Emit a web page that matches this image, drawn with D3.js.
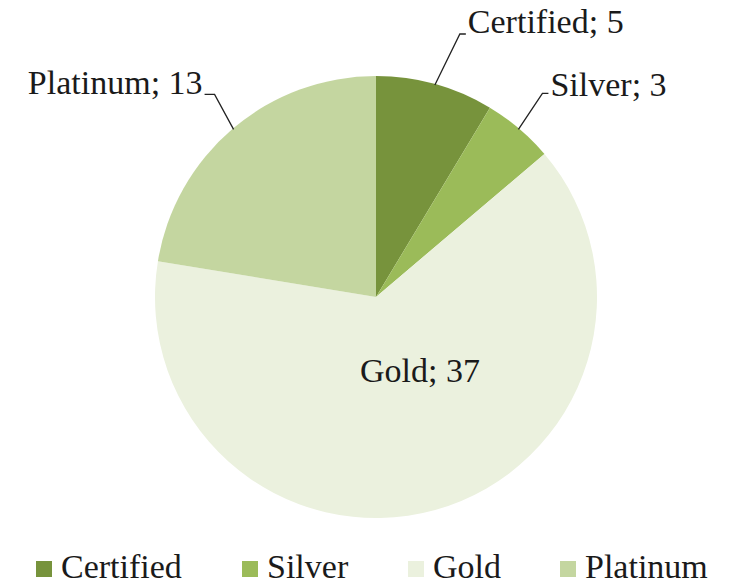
<!DOCTYPE html>
<html><head><meta charset="utf-8">
<script src="https://cdn.jsdelivr.net/npm/d3@7"></script>
<style>html,body{margin:0;padding:0;background:#fff;}</style>
</head><body>
<svg id="c" width="734" height="585"></svg>
<script>
const categories = ["Certified", "Silver", "Gold", "Platinum"];
const values = [5, 3, 37, 13];
const colors = ["#77933c", "#9bbb59", "#ebf1de", "#c4d6a0"];

const svg = d3.select("#c");
const cx = 376, cy = 297, R = 221;
const FONT = '"Liberation Serif"';
function txt(sel) {
  return sel.style("font-family", FONT).style("font-size", "34px").style("fill", "#1a1a1a");
}

const data = categories.map((c, i) => ({name: c, value: values[i], color: colors[i]}));
const pie = d3.pie().sort(null).value(d => d.value);
const arcs = pie(data);
const arc = d3.arc().innerRadius(0).outerRadius(R);

const g = svg.append("g").attr("transform", `translate(${cx},${cy})`);
g.selectAll("path").data(arcs).join("path")
  .attr("d", arc).attr("fill", d => d.data.color)
  .attr("stroke", "none");

// label layout: leader elbow offsets relative to the slice edge point
const layout = {
  Certified: {elbow: [25, -51], end: [31, -51], anchor: "start", tdx: 2, tdy: -1},
  Silver:    {elbow: [24, -36], end: [30, -36], anchor: "start", tdx: 2, tdy: 3},
  Platinum:  {elbow: [-19, -35], end: [-29, -35], anchor: "end", tdx: -2, tdy: 0},
};
const mid = d => (d.startAngle + d.endAngle) / 2;
arcs.forEach(d => {
  const a = mid(d);
  const label = `${d.data.name}; ${d.data.value}`;
  if (d.data.name === "Gold") {
    const r = 86;
    txt(g.append("text").attr("x", Math.sin(a) * r + 21).attr("y", -Math.cos(a) * r + 2)
      .attr("text-anchor", "middle").text(label));
    return;
  }
  const L = layout[d.data.name];
  const px = Math.sin(a) * (R - 1), py = -Math.cos(a) * (R - 1);
  const ex = px + L.elbow[0], ey = py + L.elbow[1];
  const fx = px + L.end[0], fy = py + L.end[1];
  g.append("path").attr("d", `M${px},${py}L${ex},${ey}L${fx},${fy}`)
    .attr("fill", "none").attr("stroke", "#222").attr("stroke-width", 1.3);
  txt(g.append("text").attr("x", fx + L.tdx).attr("y", fy + L.tdy)
    .attr("text-anchor", L.anchor).text(label));
});

// legend
const legX = [36, 242, 408, 560];
const leg = svg.append("g");
data.forEach((d, i) => {
  leg.append("rect").attr("x", legX[i]).attr("y", 561).attr("width", 16).attr("height", 16).attr("fill", d.color);
  txt(leg.append("text").attr("x", legX[i] + 25).attr("y", 578).text(d.name));
});
</script>
</body></html>
